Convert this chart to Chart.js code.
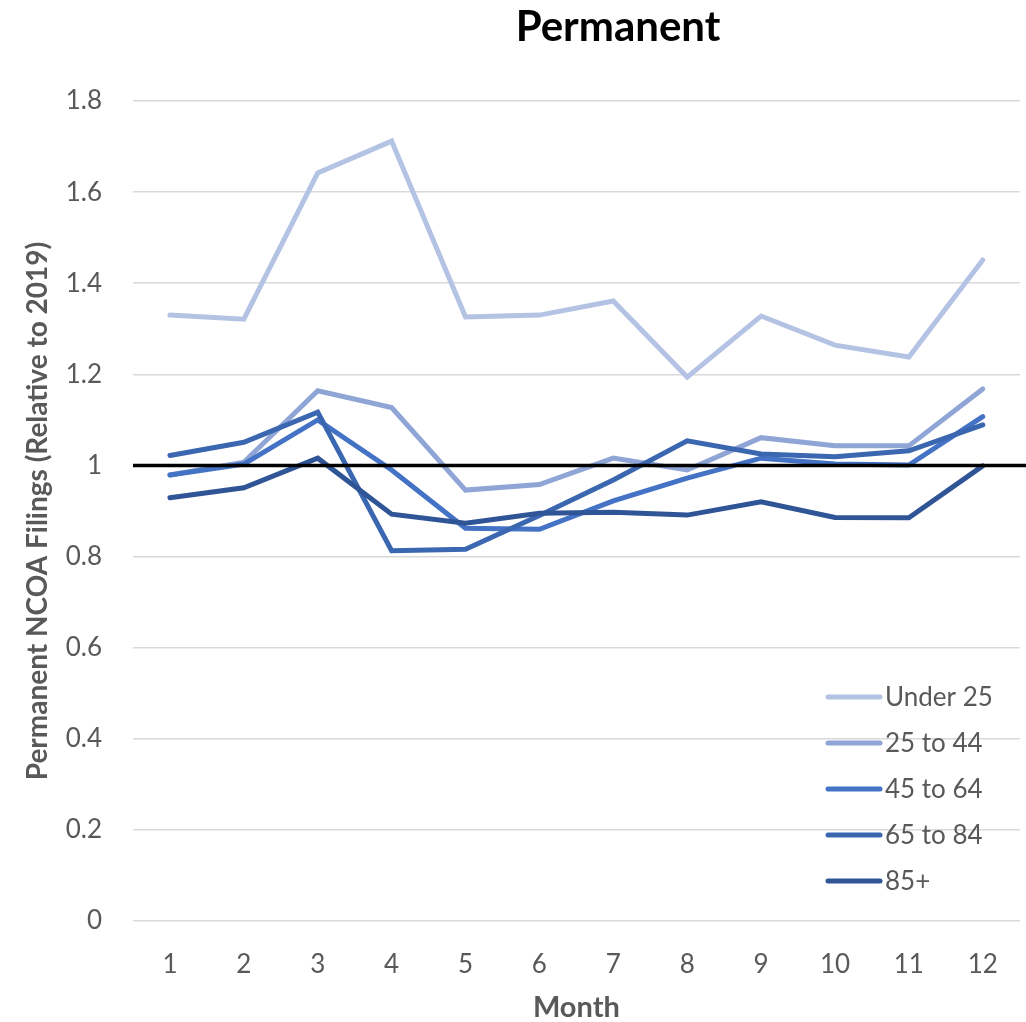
<!DOCTYPE html>
<html>
<head>
<meta charset="utf-8">
<script src="https://cdn.jsdelivr.net/npm/chart.js@4"></script>
<style>
  html, body { margin: 0; padding: 0; background: #ffffff; }
  #wrap { width: 1026px; height: 1022px; position: relative; }
</style>
</head>
<body>
<div id="wrap"><canvas id="chart"></canvas></div>
<script>
// Months on the horizontal axis
const months = ['1', '2', '3', '4', '5', '6', '7', '8', '9', '10', '11', '12'];

// Permanent NCOA filings relative to 2019, by age group
const under25 = [1.330, 1.321, 1.642, 1.712, 1.326, 1.330, 1.361, 1.194, 1.328, 1.264, 1.238, 1.451];
const age25to44 = [0.979, 1.007, 1.164, 1.127, 0.946, 0.958, 1.016, 0.990, 1.061, 1.043, 1.043, 1.168];
const age45to64 = [0.979, 1.003, 1.100, 0.990, 0.862, 0.860, 0.922, 0.972, 1.016, 1.003, 1.001, 1.107];
const age65to84 = [1.022, 1.051, 1.117, 0.813, 0.816, 0.890, 0.968, 1.054, 1.025, 1.019, 1.032, 1.089];
const age85plus = [0.929, 0.951, 1.016, 0.893, 0.873, 0.895, 0.897, 0.891, 0.920, 0.886, 0.885, 0.999];

const seriesNames = ['Under 25', '25 to 44', '45 to 64', '65 to 84', '85+'];
const yTickValues = [0, 0.2, 0.4, 0.6, 0.8, 1, 1.2, 1.4, 1.6, 1.8];
const baselineValue = 1;

const titleText = 'Permanent';
const yTitleText = 'Permanent NCOA Filings (Relative to 2019)';
const xTitleText = 'Month';

const colors = ['#B4C3E4', '#8FA5D6', '#4473C5', '#3B67B0', '#2F5597'];
const FONT = 'Lato, "Open Sans", sans-serif';
const TEXT_GREY = '#595959';

const seriesValues = [under25, age25to44, age45to64, age65to84, age85plus];

const datasets = seriesValues.map((vals, i) => ({
  label: seriesNames[i],
  data: vals,
  borderColor: colors[i],
  backgroundColor: colors[i],
  borderWidth: 5,
  pointRadius: 0,
  pointHoverRadius: 0,
  tension: 0,
  fill: false,
  borderCapStyle: 'round',
  borderJoinStyle: 'miter',
  order: seriesValues.length - 1 - i
}));

// Chart title, reference line at 1 and the in-plot legend
const extras = {
  id: 'extras',
  afterDatasetsDraw(chart) {
    const { ctx, chartArea, scales } = chart;
    const y = scales.y.getPixelForValue(baselineValue);
    ctx.save();
    ctx.strokeStyle = '#000000';
    ctx.lineWidth = 3.5;
    ctx.beginPath();
    ctx.moveTo(chartArea.left, y);
    ctx.lineTo(chart.width, y);
    ctx.stroke();
    ctx.restore();
  },
  afterDraw(chart) {
    const { ctx } = chart;
    ctx.save();
    // title
    ctx.fillStyle = '#000000';
    ctx.font = 'bold 42px ' + FONT;
    ctx.textAlign = 'center';
    ctx.textBaseline = 'middle';
    ctx.fillText(titleText, 618, 27);

    // legend
    const x0 = 828, lineLen = 52, textX = 885;
    const rowY0 = 697, rowStep = 46;
    ctx.font = '26px ' + FONT;
    ctx.textAlign = 'left';
    chart.data.datasets.forEach((ds, i) => {
      const ry = rowY0 + i * rowStep;
      ctx.strokeStyle = ds.borderColor;
      ctx.lineWidth = 5;
      ctx.lineCap = 'round';
      ctx.beginPath();
      ctx.moveTo(x0, ry);
      ctx.lineTo(x0 + lineLen, ry);
      ctx.stroke();
      ctx.fillStyle = TEXT_GREY;
      ctx.fillText(ds.label, textX, ry + 1);
    });
    ctx.restore();
  }
};

new Chart(document.getElementById('chart'), {
  type: 'line',
  data: { labels: months, datasets },
  plugins: [extras],
  options: {
    responsive: true,
    maintainAspectRatio: false,
    animation: false,
    layout: { padding: { top: 101, right: 4, left: 0, bottom: 0 } },
    plugins: {
      legend: { display: false },
      title: { display: false },
      tooltip: { enabled: false }
    },
    scales: {
      x: {
        offset: true,
        grid: { display: false, drawTicks: false },
        border: { display: false },
        ticks: {
          color: TEXT_GREY,
          font: { family: FONT, size: 26 },
          padding: 28,
          maxRotation: 0
        },
        title: {
          display: true,
          text: xTitleText,
          color: TEXT_GREY,
          font: { family: FONT, size: 29, weight: 'bold', lineHeight: 1 },
          padding: { top: 0, bottom: 0 }
        },
        afterFit(scale) { scale.height = 101; }
      },
      y: {
        min: 0,
        max: 1.8,
        grid: { color: '#D9D9D9', lineWidth: 1.5, drawTicks: false },
        border: { display: false },
        afterBuildTicks(scale) {
          scale.ticks = yTickValues.map(v => ({ value: v }));
        },
        ticks: {
          color: TEXT_GREY,
          font: { family: FONT, size: 26 },
          padding: 31,
          callback: (v) => String(v)
        },
        title: {
          display: true,
          text: yTitleText,
          color: TEXT_GREY,
          font: { family: FONT, size: 28, weight: 'bold' },
          padding: { top: 21, bottom: 0 }
        },
        afterFit(scale) { scale.width = 133; }
      }
    }
  }
});
</script>
</body>
</html>
